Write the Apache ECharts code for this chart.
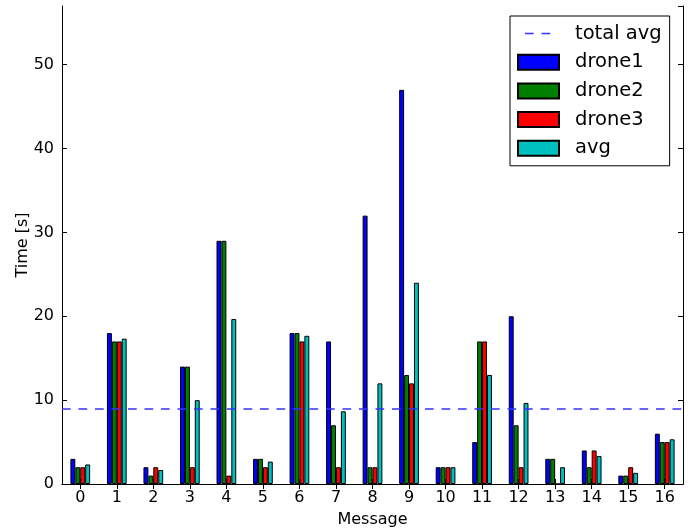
<!DOCTYPE html>
<html>
<head>
<meta charset="utf-8">
<script src="https://cdn.jsdelivr.net/npm/echarts@6/dist/echarts.min.js"></script>
<style>html,body{margin:0;padding:0;background:#fff}#c{width:691px;height:531px}</style>
</head>
<body>
<div id="c"></div>
<script>
const categories = ['0','1','2','3','4','5','6','7','8','9','10','11','12','13','14','15','16'];
const drone1 = [3, 18, 2, 14, 29, 3, 18, 17, 32, 47, 2, 5, 20, 3, 4, 1, 6];
const drone2 = [2, 17, 1, 14, 29, 3, 18, 7, 2, 13, 2, 17, 7, 3, 2, 1, 5];
const drone3 = [2, 17, 2, 2, 1, 2, 17, 2, 2, 12, 2, 17, 2, 0, 4, 2, 5];
const avg = [2.33, 17.33, 1.67, 10, 19.67, 2.67, 17.67, 8.67, 12, 24, 2, 13, 9.67, 2, 3.33, 1.33, 5.33];
const totalAvg = 8.98;
const yTicks = [0, 10, 20, 30, 40, 50];

const font = 'DejaVu Sans';
const chart = echarts.init(document.getElementById('c'), null, {renderer: 'canvas'});

function barSeries(name, data, color) {
  return {
    name: name, type: 'bar', data: data, xAxisIndex: 0, yAxisIndex: 0,
    barWidth: '13.5%', barGap: '0%',
    itemStyle: {color: color, borderColor: '#000', borderWidth: 1},
    emphasis: {disabled: true}
  };
}

const axisCommon = {
  axisLine: {show: true, lineStyle: {color: '#000', width: 1}},
  splitLine: {show: false}
};

const lineColor = '#3333ff';

chart.setOption({
  animation: false,
  backgroundColor: '#fff',
  textStyle: {fontFamily: font},
  grid: {left: 62, right: 8, top: 6, bottom: 47, containLabel: false, outerBoundsMode: 'none'},
  legend: {
    orient: 'vertical', left: 510, top: 16,
    padding: [7.5, 8, 7.5, 7],
    backgroundColor: '#fff',
    borderColor: '#000', borderWidth: 1, borderRadius: 0,
    itemWidth: 41, itemHeight: 15, itemGap: 8.7,
    textStyle: {fontFamily: font, fontSize: 19.5, color: '#000', lineHeight: 20, padding: [0, 0, 0, 11]},
    data: [
      {name: 'total avg', itemStyle: {opacity: 0},
       lineStyle: {color: lineColor, width: 1.5, type: [0, 7, 8.7, 7.8, 8.7, 60]}},
      {name: 'drone1', icon: 'rect'},
      {name: 'drone2', icon: 'rect'},
      {name: 'drone3', icon: 'rect'},
      {name: 'avg', icon: 'rect'}
    ]
  },
  xAxis: [
    Object.assign({}, axisCommon, {
      type: 'category', data: categories, position: 'bottom',
      name: 'Message', nameLocation: 'middle', nameGap: 28,
      nameTextStyle: {fontFamily: font, fontSize: 16, color: '#000'},
      axisTick: {show: true, inside: true, length: 5, alignWithLabel: true, lineStyle: {color: '#000'}},
      axisLabel: {fontFamily: font, fontSize: 16, color: '#000', margin: 6}
    }),
    Object.assign({}, axisCommon, {
      type: 'category', data: categories, position: 'top',
      axisTick: {show: true, inside: true, length: 5, alignWithLabel: true, lineStyle: {color: '#000'}},
      axisLabel: {show: false}
    })
  ],
  yAxis: [
    Object.assign({}, axisCommon, {
      type: 'value', min: 0, max: 57, interval: 10, position: 'left',
      name: 'Time [s]', nameLocation: 'middle', nameGap: 31, nameMoveOverlap: false,
      nameTextStyle: {fontFamily: font, fontSize: 16, color: '#000'},
      axisTick: {show: true, inside: true, length: 5, lineStyle: {color: '#000'}},
      axisLabel: {fontFamily: font, fontSize: 16, color: '#000', margin: 8, showMaxLabel: false,
        formatter: v => yTicks.indexOf(v) >= 0 ? String(v) : ''}
    }),
    Object.assign({}, axisCommon, {
      type: 'value', min: 0, max: 57, interval: 10, position: 'right',
      axisTick: {show: true, inside: true, length: 5, lineStyle: {color: '#000'}},
      axisLabel: {show: false}
    })
  ],
  series: [
    {
      name: 'total avg', type: 'line', data: [], xAxisIndex: 0, yAxisIndex: 0,
      symbol: 'none', color: lineColor,
      lineStyle: {color: lineColor, width: 1.5, type: [8.7, 7.8]},
      markLine: {
        silent: true, symbol: ['none', 'none'], label: {show: false},
        lineStyle: {color: lineColor, width: 1.5, type: [8.7, 7.8]},
        data: [{yAxis: totalAvg}]
      }
    },
    barSeries('drone1', drone1, '#0000ff'),
    barSeries('drone2', drone2, '#008000'),
    barSeries('drone3', drone3, '#ff0000'),
    barSeries('avg', avg, '#00bfbf')
  ]
});
</script>
</body>
</html>
